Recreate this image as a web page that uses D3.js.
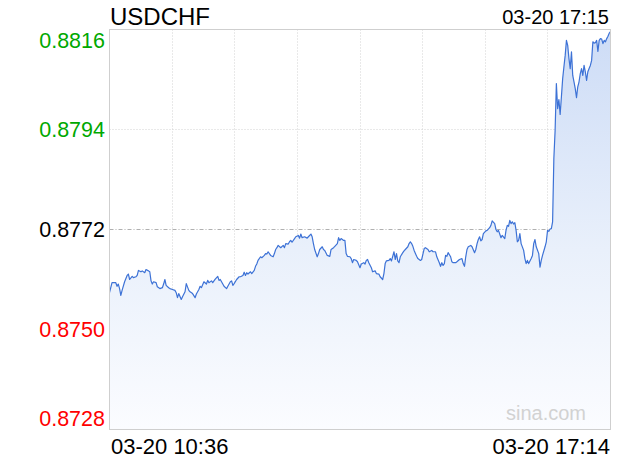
<!DOCTYPE html>
<html><head><meta charset="utf-8">
<script src="https://cdn.jsdelivr.net/npm/d3@7"></script>
<style>
html,body{margin:0;padding:0;background:#fff;}
svg{display:block;font-family:"Liberation Sans",Arial,Helvetica,sans-serif;}
</style></head><body>
<svg id="c" width="620" height="460"></svg>
<script>
const symbol = "USDCHF";
const dateLabel = "03-20";
const updateTime = "17:15";
const watermark = "sina.com";
const prevClose = 0.8772;
const yTicks = [0.8816, 0.8794, 0.8772, 0.8750, 0.8728];
const xTicks = ["10:36", "17:14"];

const times = [
"10:36","10:38","10:41","10:42","10:43","10:44","10:45","10:46","10:48","10:50","10:51","10:52","10:54","10:55","10:57","10:58","10:59",
"11:01","11:02","11:04","11:05","11:07","11:08","11:09","11:10","11:11","11:13","11:14","11:16","11:18","11:19","11:20","11:21","11:23","11:24","11:26","11:28","11:29","11:30","11:31","11:33","11:34","11:36","11:37","11:39","11:40","11:42","11:44","11:45","11:47","11:48","11:49","11:51","11:53","11:54","11:55","11:57","11:58",
"12:00","12:02","12:03","12:04","12:06","12:07","12:09","12:10","12:12","12:13","12:14","12:15","12:17","12:19","12:20","12:22","12:23","12:24","12:25","12:26","12:28","12:29","12:31","12:32","12:33","12:34","12:36","12:37","12:39","12:40","12:41","12:42","12:44","12:46","12:47","12:48","12:49","12:50","12:52","12:54","12:55","12:56","12:58","12:59",
"13:00","13:01","13:03","13:04","13:06","13:07","13:08","13:09","13:11","13:13","13:14","13:16","13:17","13:18","13:19","13:21","13:22","13:23","13:25","13:26","13:27","13:29","13:31","13:32","13:34","13:35","13:37","13:38","13:39","13:40","13:42","13:43","13:44","13:45","13:47","13:48","13:49","13:50","13:52","13:53","13:55","13:56","13:58","13:59",
"14:00","14:01","14:02","14:04","14:05","14:07","14:08","14:10","14:11","14:13","14:14","14:15","14:16","14:18","14:19","14:20","14:22","14:23","14:24","14:25","14:26","14:27","14:29","14:30","14:31","14:33","14:34","14:35","14:36","14:37","14:38","14:40","14:41","14:43","14:44","14:46","14:47","14:49","14:50","14:52","14:53","14:55","14:56","14:58","14:59",
"15:00","15:01","15:02","15:03","15:04","15:05","15:07","15:08","15:09","15:11","15:12","15:14","15:16","15:17","15:18","15:19","15:20","15:21","15:23","15:24","15:26","15:27","15:28","15:29","15:30","15:31","15:32","15:33","15:35","15:36","15:38","15:39","15:40","15:42","15:43","15:44","15:45","15:46","15:47","15:48","15:50","15:51","15:52","15:53","15:54","15:55","15:56","15:57","15:58","15:59",
"16:00","16:01","16:02","16:03","16:05","16:06","16:07","16:08","16:09","16:11","16:12","16:13","16:14","16:15","16:17","16:18","16:19","16:20","16:22","16:23","16:24","16:25","16:26","16:27","16:28","16:29","16:30","16:31","16:32","16:33","16:34","16:35","16:36","16:37","16:38","16:39","16:40","16:41","16:42","16:43","16:44","16:45","16:46","16:47","16:48","16:49","16:50","16:51","16:52","16:53","16:54","16:55","16:56","16:57","16:58","16:59",
"17:00","17:01","17:02","17:03","17:04","17:05","17:06","17:07","17:08","17:09","17:10","17:11","17:12","17:13","17:14"
];

const prices = [
0.87581,0.87603,0.87603,0.87595,0.87600,0.87590,0.87575,0.87586,0.87605,0.87619,0.87622,0.87610,0.87617,0.87614,0.87616,0.87619,0.87630,
0.87627,0.87629,0.87625,0.87632,0.87629,0.87627,0.87607,0.87600,0.87605,0.87603,0.87594,0.87590,0.87592,0.87600,0.87610,0.87597,0.87592,0.87590,0.87588,0.87586,0.87581,0.87570,0.87579,0.87566,0.87572,0.87583,0.87601,0.87586,0.87583,0.87579,0.87570,0.87578,0.87588,0.87595,0.87592,0.87605,0.87600,0.87608,0.87603,0.87607,0.87603,
0.87611,0.87617,0.87608,0.87610,0.87600,0.87595,0.87590,0.87595,0.87605,0.87607,0.87597,0.87601,0.87610,0.87616,0.87616,0.87619,0.87626,0.87619,0.87625,0.87622,0.87627,0.87623,0.87630,0.87639,0.87644,0.87652,0.87660,0.87658,0.87663,0.87667,0.87666,0.87671,0.87663,0.87660,0.87667,0.87676,0.87680,0.87685,0.87680,0.87685,0.87680,0.87689,0.87688,0.87693,
0.87696,0.87692,0.87700,0.87704,0.87707,0.87701,0.87710,0.87702,0.87704,0.87701,0.87704,0.87710,0.87704,0.87689,0.87676,0.87660,0.87667,0.87676,0.87682,0.87676,0.87674,0.87663,0.87661,0.87676,0.87680,0.87683,0.87689,0.87702,0.87696,0.87700,0.87696,0.87696,0.87667,0.87661,0.87660,0.87656,0.87647,0.87654,0.87652,0.87649,0.87636,0.87644,0.87647,0.87644,
0.87652,0.87654,0.87647,0.87636,0.87627,0.87629,0.87623,0.87622,0.87616,0.87610,0.87623,0.87645,0.87651,0.87652,0.87656,0.87651,0.87671,0.87654,0.87667,0.87651,0.87647,0.87660,0.87669,0.87673,0.87676,0.87682,0.87689,0.87693,0.87689,0.87683,0.87674,0.87661,0.87656,0.87652,0.87654,0.87678,0.87680,0.87676,0.87671,0.87674,0.87671,0.87671,0.87660,0.87647,0.87639,
0.87647,0.87641,0.87645,0.87663,0.87661,0.87669,0.87660,0.87649,0.87647,0.87647,0.87649,0.87654,0.87656,0.87645,0.87639,0.87660,0.87676,0.87682,0.87685,0.87682,0.87669,0.87676,0.87689,0.87698,0.87704,0.87695,0.87698,0.87711,0.87717,0.87718,0.87724,0.87729,0.87739,0.87733,0.87720,0.87715,0.87718,0.87710,0.87702,0.87707,0.87700,0.87718,0.87729,0.87727,0.87740,0.87733,0.87737,0.87732,0.87735,0.87718,
0.87693,0.87696,0.87711,0.87689,0.87674,0.87656,0.87645,0.87652,0.87645,0.87656,0.87663,0.87689,0.87698,0.87682,0.87667,0.87637,0.87652,0.87663,0.87682,0.87693,0.87718,0.87716,0.87721,0.87722,0.87737,0.87876,0.87938,0.88041,0.87986,0.88006,0.87973,0.88012,0.88052,0.88078,0.88103,0.88136,0.88125,0.88096,0.88074,0.88111,0.88059,0.88045,0.88030,0.88010,0.88034,0.88045,0.88063,0.88074,0.88059,0.88081,0.88067,0.88048,0.88067,0.88074,0.88081,0.88092,
0.88133,0.88130,0.88131,0.88136,0.88112,0.88136,0.88140,0.88139,0.88129,0.88136,0.88133,0.88140,0.88145,0.88152,0.88155
];

const parseT = d3.timeParse("%H:%M");
const data = times.map((t, i) => ({t: parseT(t), v: prices[i]}));

const L = 109.5, R = 610.5, T = 29.5, B = 429.5;
const svg = d3.select("#c");

const x = d3.scaleTime().domain([parseT(xTicks[0]), parseT(xTicks[1])]).range([L, R]);
const y = d3.scaleLinear().domain([yTicks[yTicks.length - 1], yTicks[0]]).range([B, T]);

// gradient
const defs = svg.append("defs");
const grad = defs.append("linearGradient").attr("id", "g")
  .attr("gradientUnits", "userSpaceOnUse").attr("x1", 0).attr("x2", 0).attr("y1", T).attr("y2", B);
grad.append("stop").attr("offset", "0%").attr("stop-color", "#cddcf6");
grad.append("stop").attr("offset", "55%").attr("stop-color", "#e9f0fb");
grad.append("stop").attr("offset", "100%").attr("stop-color", "#fbfcff");

// vertical grid
const [t0, t1] = x.domain();
const vg = d3.range(1, 8).map(i => new Date(+t0 + i * (t1 - t0) / 8));
svg.append("g").selectAll("line").data(vg).join("line")
  .attr("x1", d => Math.floor(x(d)) + 0.5).attr("x2", d => Math.floor(x(d)) + 0.5)
  .attr("y1", T).attr("y2", B)
  .attr("stroke", "#d2d2d2").attr("stroke-dasharray", "1,2");

// horizontal grid
svg.append("g").selectAll("line").data(yTicks.slice(1, -1)).join("line")
  .attr("x1", L).attr("x2", R)
  .attr("y1", d => Math.floor(y(d)) + 0.5).attr("y2", d => Math.floor(y(d)) + 0.5)
  .attr("stroke", d => d === prevClose ? "#b0b0b0" : "#d2d2d2")
  .attr("stroke-dasharray", d => d === prevClose ? "4,2,1,2" : "1,2");

// area + line
svg.append("path").datum(data)
  .attr("d", d3.area().x(d => x(d.t)).y0(B).y1(d => y(d.v)))
  .attr("fill", "url(#g)");
svg.append("path").datum(data)
  .attr("d", d3.line().x(d => x(d.t)).y(d => y(d.v)))
  .attr("fill", "none").attr("stroke", "#3d72d6").attr("stroke-width", 1.2)
  .attr("stroke-linejoin", "round");

// border
svg.append("rect").attr("x", L).attr("y", T).attr("width", R - L).attr("height", B - T)
  .attr("fill", "none").attr("stroke", "#cfcfcf");

// watermark
svg.append("text").attr("x", 586).attr("y", 420).attr("text-anchor", "end")
  .attr("font-size", 20).attr("fill", "#d2d2d2").text(watermark);

// y axis labels
const yAxis = svg.append("g").attr("transform", `translate(${L - 0.5},0)`)
  .call(d3.axisLeft(y).tickValues(yTicks).tickSize(0).tickPadding(4).tickFormat(d3.format(".4f")));
yAxis.select(".domain").remove();
yAxis.selectAll("text")
  .attr("font-size", 21.5).attr("font-family", "'Liberation Sans',Arial,sans-serif")
  .attr("fill", d => d > prevClose + 1e-9 ? "#00a800" : (d < prevClose - 1e-9 ? "#ff0000" : "#000"))
  .attr("dy", (d, i) => i === 0 ? "0.82em" : (i === yTicks.length - 1 ? "-0.2em" : "0.32em"));

// x axis labels
const xAxis = svg.append("g").attr("transform", `translate(0,${B})`)
  .call(d3.axisBottom(x).tickValues(xTicks.map(parseT)).tickSize(0).tickPadding(0)
    .tickFormat(d => dateLabel + " " + d3.timeFormat("%H:%M")(d)));
xAxis.select(".domain").remove();
xAxis.selectAll("text")
  .attr("font-size", 22).attr("font-family", "'Liberation Sans',Arial,sans-serif").attr("fill", "#000")
  .attr("dy", null).attr("y", 24.5)
  .attr("text-anchor", (d, i) => i === 0 ? "start" : "end")
  .attr("dx", (d, i) => i === 0 ? 1 : -1);

// title and time
svg.append("text").attr("x", 110).attr("y", 25).attr("font-size", 24).attr("fill", "#000").text(symbol);
svg.append("text").attr("x", 609).attr("y", 24).attr("text-anchor", "end")
  .attr("font-size", 20).attr("fill", "#000").text(dateLabel + " " + updateTime);
</script>
</body></html>
